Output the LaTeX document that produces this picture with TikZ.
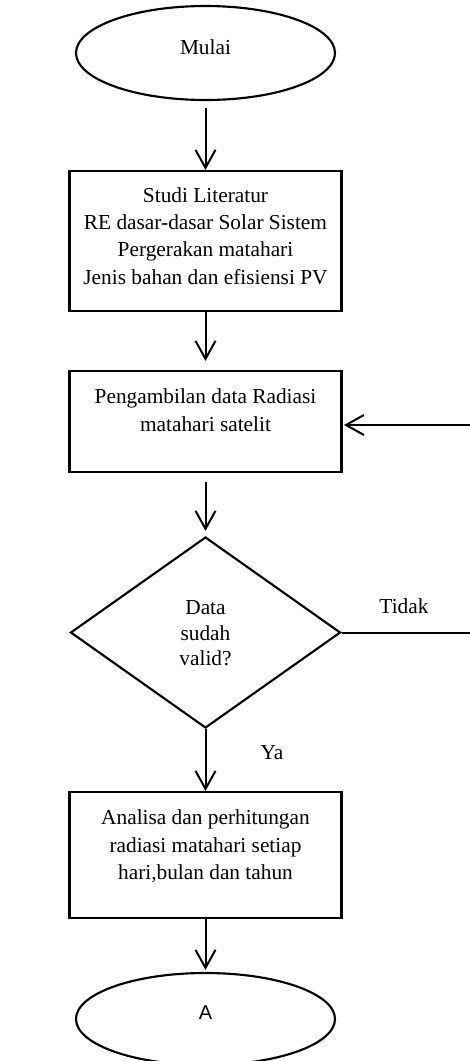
\documentclass[tikz,border=0pt]{standalone}
\usepackage{fontspec}
\setmainfont{Liberation Serif}
\newfontfamily\sansA{Liberation Sans}
\usepackage{tikz}
\usetikzlibrary{shapes.geometric,arrows.meta}

\begin{document}
\begin{tikzpicture}[x=0.75pt,y=0.75pt,yscale=-1,xscale=1,
  shp/.style={draw, line width=1.6pt, inner sep=0pt},
  txt/.style={inner sep=0pt, align=center, font=\fontsize{16}{20.6}\selectfont},
  flow/.style={-{Straight Barb[length=13.5pt,width=15pt]}, line width=1.5pt}]
\useasboundingbox (0,0) rectangle (470,1061);

%Shape: Ellipse [mulai]
\node [shp, ellipse, minimum width=194.25pt, minimum height=70.5pt] (mulai) at (205.5,53) {};
%Shape: Rectangle [lit]
\node [shp, rectangle, minimum width=204pt, minimum height=105pt] (lit) at (205.5,241) {};
%Shape: Rectangle [ambil]
\node [shp, rectangle, minimum width=204pt, minimum height=75.75pt] (ambil) at (205.5,421.5) {};
%Shape: Diamond [valid]
\node [shp, diamond, minimum width=202.5pt, minimum height=143.25pt] (valid) at (205.5,632.5) {};
%Shape: Rectangle [olah]
\node [shp, rectangle, minimum width=204pt, minimum height=94.5pt] (olah) at (205.5,855) {};
%Shape: Ellipse [konA]
\node [shp, ellipse, minimum width=194.25pt, minimum height=69pt] (konA) at (205.5,1019) {};

% Text Node
\node [txt] (mulaiT) at (205.5,47) {Mulai};
% Text Node
\node [txt] (litT) at (205.5,236) {Studi Literatur\\RE dasar-dasar Solar Sistem\\Pergerakan matahari\\Jenis bahan dan efisiensi PV};
% Text Node
\node [txt] (ambilT) at (205.5,410) {Pengambilan data Radiasi\\matahari satelit};
% Text Node
\node [txt, font=\fontsize{16}{19.1}\selectfont] (validT) at (205.5,633.5) {Data\\sudah\\valid?};
% Text Node
\node [txt] (olahT) at (205.5,846.5) {Analisa dan perhitungan\\radiasi matahari setiap\\hari,bulan dan tahun};
% Text Node
\node [txt, font=\sansA\fontsize{15}{18}\selectfont] (konAT) at (205.5,1013) {A};
% Text Node
\node [txt] (tidak) at (404,606) {Tidak};
% Text Node
\node [txt] (ya) at (272,753) {Ya};

%Connectors
\draw [flow, shorten <=5.25pt] (mulai.south) -- (lit.north);
\draw [flow, shorten >=6.75pt] (lit.south) -- (ambil.north);
\draw [flow, shorten <=6.75pt, shorten >=3.75pt] (ambil.south) -- (valid.north);
\draw [flow] (valid.south) -- (olah.north);
\draw [flow, shorten >=1.5pt] (olah.south) -- (konA.north);

%Loop back (Tidak)
\coordinate (back) at (476,425);
\draw [flow, shorten >=1pt] (valid.east) -- (valid.east -| back) -- (back) -- (back -| ambil.east);

\end{tikzpicture}
\end{document}
